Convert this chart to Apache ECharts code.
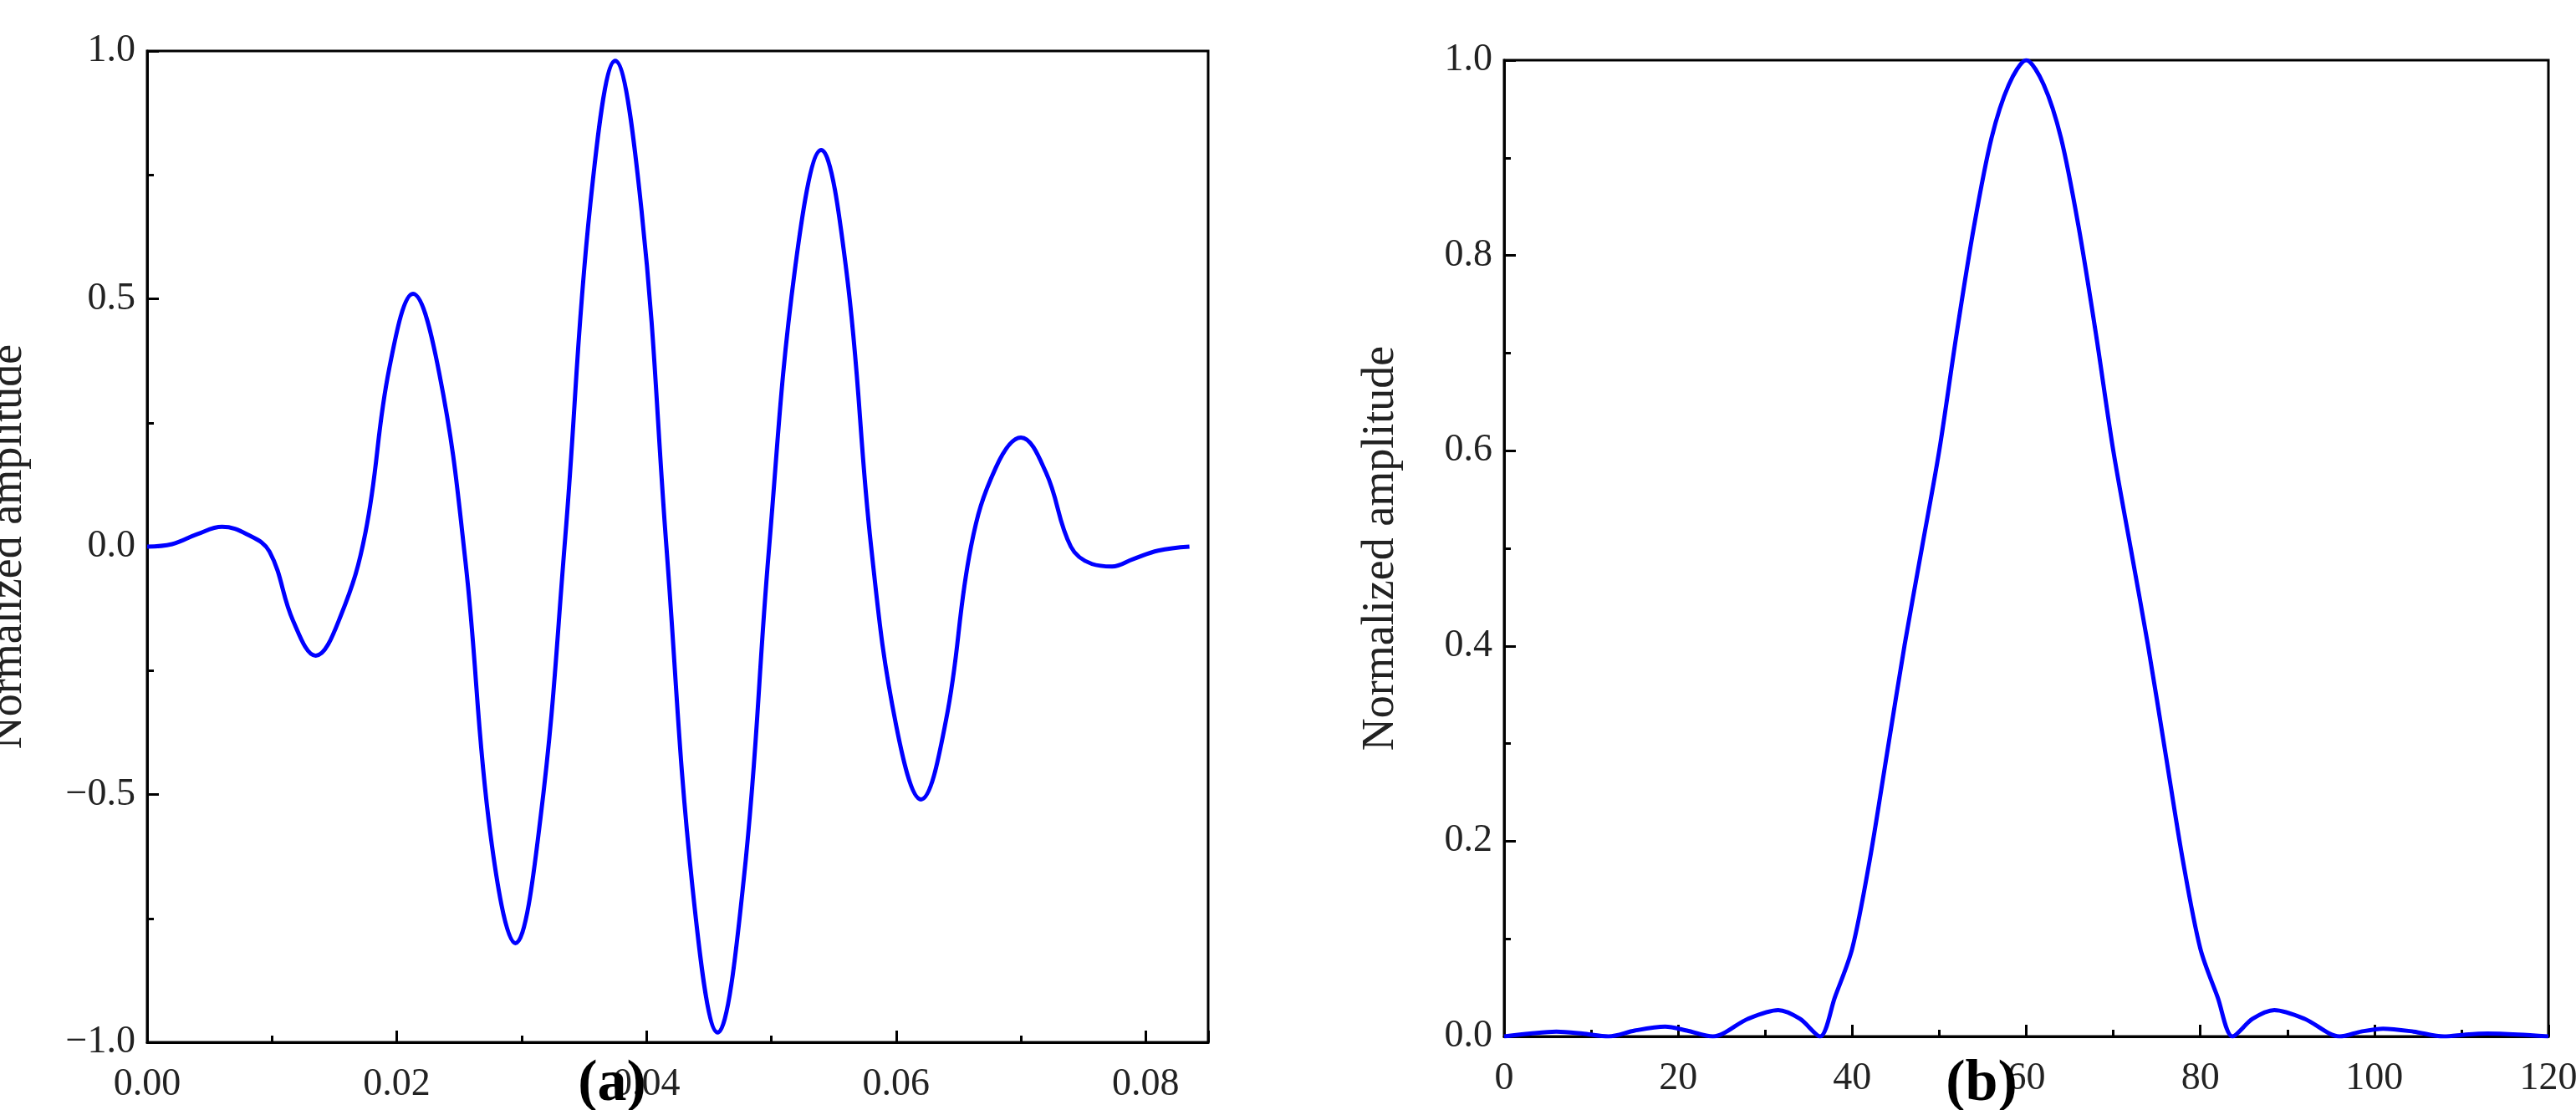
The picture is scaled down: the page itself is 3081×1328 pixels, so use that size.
<!DOCTYPE html>
<html><head><meta charset="utf-8">
<script src="https://cdn.jsdelivr.net/npm/echarts@6/dist/echarts.min.js"></script>
<style>html,body{margin:0;padding:0;background:#fff}#c{width:3081px;height:1328px}</style>
</head><body><div id="c"></div>
<script>
const timeMs = [0,0.002,0.004,0.006,0.008,0.0098,0.0117,0.0135,0.0155,0.0175,0.0194,0.0213,0.0234,0.0255,0.0275,0.0295,0.0315,0.0335,0.0355,0.0375,0.0396,0.0416,0.0437,0.0457,0.0478,0.0498,0.0519,0.054,0.056,0.058,0.060,0.062,0.064,0.066,0.068,0.070,0.072,0.074,0.0757,0.0773,0.079,0.081,0.0835];
const ampA = [0,0.005,0.025,0.04,0.025,-0.01,-0.15,-0.22,-0.14,0.03,0.36,0.51,0.35,-0.03,-0.58,-0.80,-0.55,0.02,0.69,0.98,0.68,0.0,-0.69,-0.98,-0.67,-0.01,0.56,0.80,0.56,0.0,-0.36,-0.51,-0.35,0.0,0.16,0.22,0.15,0.0,-0.035,-0.04,-0.025,-0.008,0];
const freqKHz = [0,3,6,9,12,15,18.5,21,24,28,31.5,34,36.3,38,40,42,44,46,48,50,52,54,56,58,60,62,64,66,68,70,72,74,76,78,80,82,83.7,86,88.5,92,96,98.5,101,104.5,108,110.5,113,116.5,120];
const ampB = [0,0.003,0.005,0.003,0,0.006,0.01,0.006,0,0.018,0.027,0.018,0,0.04,0.09,0.18,0.29,0.40,0.50,0.60,0.72,0.83,0.92,0.975,1.0,0.975,0.92,0.83,0.72,0.60,0.50,0.40,0.29,0.18,0.09,0.04,0,0.018,0.027,0.018,0,0.005,0.008,0.005,0,0.002,0.003,0.002,0];
const fontF = '"Liberation Serif", "Times New Roman", serif';
const black = '#000';
function pairs(x,y){return x.map((v,i)=>[v,y[i]]);}
function xAxis(idx,min,max,interval,dec,name){
  return {gridIndex:idx,type:'value',min,max,interval,name,nameLocation:'middle',nameGap:122,
    nameTextStyle:{fontFamily:fontF,fontSize:52,color:'#222'},
    axisLine:{show:true,onZero:false,lineStyle:{color:black,width:3}},
    axisTick:{show:true,inside:true,length:14,lineStyle:{color:black,width:3}},
    minorTick:{show:true,splitNumber:2,length:8,lineStyle:{color:black,width:3}},
    splitLine:{show:false},
    axisLabel:{fontFamily:fontF,fontSize:46,color:'#222',margin:28,showMaxLabel:max%interval===0,
      formatter:v=>dec?v.toFixed(dec):String(v)}};
}
function yAxis(idx,min,max,interval,dec,gap){
  return {gridIndex:idx,type:'value',min,max,interval,name:'Normalized amplitude',nameLocation:'middle',nameGap:gap,
    nameTextStyle:{fontFamily:fontF,fontSize:54,color:'#222'},
    axisLine:{show:true,onZero:false,lineStyle:{color:black,width:3}},
    axisTick:{show:true,inside:true,length:14,lineStyle:{color:black,width:3}},
    minorTick:{show:true,splitNumber:2,length:8,lineStyle:{color:black,width:3}},
    splitLine:{show:false},
    axisLabel:{fontFamily:fontF,fontSize:46,color:'#222',margin:14,
      formatter:v=>v<0?'\u2212'+Math.abs(v).toFixed(dec):v.toFixed(dec)}};
}
const rich = {p:{fontFamily:fontF,fontSize:70,color:'#000'},b:{fontFamily:fontF,fontSize:70,fontWeight:'bold',color:'#000'}};
const chart = echarts.init(document.getElementById('c'));
chart.setOption({
  backgroundColor:'#fff',animation:false,
  title:[
    {text:'{p|(}{b|a}{p|)}',left:727,top:1258,textAlign:'center',textStyle:{rich}},
    {text:'{p|(}{b|b}{p|)}',left:2365,top:1258,textAlign:'center',textStyle:{rich}}
  ],
  grid:[
    {left:176,top:61,right:1636,bottom:81,outerBoundsMode:'none',containLabel:false,show:true,borderColor:black,borderWidth:3,backgroundColor:'transparent'},
    {left:1799,top:72,right:33,bottom:88,outerBoundsMode:'none',containLabel:false,show:true,borderColor:black,borderWidth:3,backgroundColor:'transparent'}
  ],
  xAxis:[xAxis(0,0,0.085,0.02,2,'Time (ms)'),xAxis(1,0,120,20,0,'Frequency (kHz)')],
  yAxis:[yAxis(0,-1,1,0.5,1,138),yAxis(1,0,1,0.2,1,120)],
  series:[
    {type:'line',xAxisIndex:0,yAxisIndex:0,data:pairs(timeMs,ampA),smooth:0.4,showSymbol:false,lineStyle:{color:'#0000ff',width:5}},
    {type:'line',xAxisIndex:1,yAxisIndex:1,data:pairs(freqKHz,ampB),smooth:0.3,showSymbol:false,lineStyle:{color:'#0000ff',width:5}}
  ]
});
</script></body></html>
